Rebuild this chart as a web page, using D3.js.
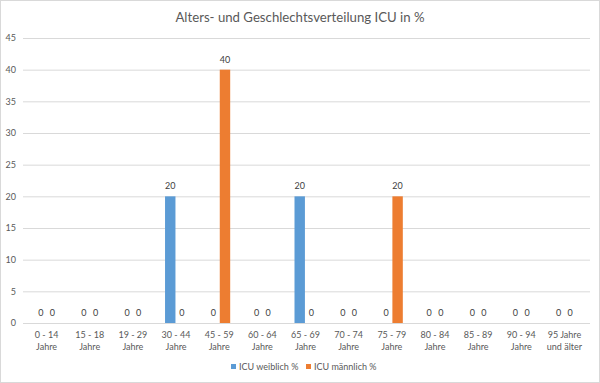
<!DOCTYPE html>
<html><head><meta charset="utf-8">
<script src="https://cdn.jsdelivr.net/npm/d3@7"></script>
<style>body{margin:0;background:#fff}svg{display:block}</style>
</head><body>
<svg id="c" width="600" height="383"></svg>
<script>
const categories = [["0 - 14","Jahre"],["15 - 18","Jahre"],["19 - 29","Jahre"],["30 - 44","Jahre"],["45 - 59","Jahre"],["60 - 64","Jahre"],["65 - 69","Jahre"],["70 - 74","Jahre"],["75 - 79","Jahre"],["80 - 84","Jahre"],["85 - 89","Jahre"],["90 - 94","Jahre"],["95 Jahre","und älter"]];
const weiblich = [0,0,0,20,0,0,20,0,0,0,0,0,0];
const maennlich = [0,0,0,0,40,0,0,0,20,0,0,0,0];
const seriesNames = ["ICU weiblich %","ICU männlich %"];
const colors = ["#5b9bd5","#ed7d31"];
const yTicks = [0,5,10,15,20,25,30,35,40,45];
const title = "Alters- und Geschlechtsverteilung ICU in %";

const font = "Lato, 'Open Sans', sans-serif";
const svg = d3.select("#c");
svg.append("rect").attr("x",0.5).attr("y",0.5).attr("width",599).attr("height",382)
  .attr("fill","#fff").attr("stroke","#d9d9d9");

const L=25, R=586, T=38, B=323;
const x0 = d3.scaleBand().domain(d3.range(categories.length)).range([L,R]).paddingInner(0).paddingOuter(0);
const x1 = d3.scaleBand().domain([0,1]).range([x0.bandwidth()/2-11, x0.bandwidth()/2+11]).paddingInner(0.1);
const y = d3.scaleLinear().domain([0,45]).range([B,T]);

svg.append("text").attr("x",300).attr("y",22).attr("text-anchor","middle")
  .attr("font-family",font).attr("font-size",13.2).attr("fill","#595959").text(title);

// grid
const gy = svg.append("g").attr("transform",`translate(${L},0)`)
  .call(d3.axisLeft(y).tickValues(yTicks).tickSize(-(R-L+4)).tickPadding(8));
gy.select(".domain").remove();
gy.selectAll(".tick line").attr("stroke","#d9d9d9").attr("x1",-2);
gy.selectAll(".tick text").attr("font-family",font).attr("font-size",9).attr("fill","#595959").attr("x",-9);

const data = categories.map((c,i)=>[weiblich[i],maennlich[i]]);
const g = svg.append("g");
data.forEach((vals,i)=>{
  vals.forEach((v,s)=>{
    const bx = x0(i)+x1(s);
    g.append("rect").attr("x",bx).attr("width",x1.bandwidth())
      .attr("y",y(v)).attr("height",B-y(v)).attr("fill",colors[s]);
    g.append("text").attr("x",bx+x1.bandwidth()/2).attr("y",y(v)-7)
      .attr("text-anchor","middle").attr("font-family",font).attr("font-size",9)
      .attr("fill","#404040").text(v);
  });
});

// x labels
const gx = svg.append("g");
categories.forEach((c,i)=>{
  const t = gx.append("text").attr("x",x0(i)+x0.bandwidth()/2).attr("y",338)
    .attr("text-anchor","middle").attr("font-family",font).attr("font-size",9).attr("fill","#595959");
  t.append("tspan").attr("x",x0(i)+x0.bandwidth()/2).attr("dy",0).text(c[0]);
  t.append("tspan").attr("x",x0(i)+x0.bandwidth()/2).attr("dy",11.5).text(c[1]);
});

// legend
const legX=[231,306];
seriesNames.forEach((n,s)=>{
  svg.append("rect").attr("x",legX[s]).attr("y",364).attr("width",5).attr("height",5).attr("fill",colors[s]);
  svg.append("text").attr("x",legX[s]+8).attr("y",369.5).attr("font-family",font).attr("font-size",9)
    .attr("fill","#595959").text(n);
});
</script>
</body></html>
